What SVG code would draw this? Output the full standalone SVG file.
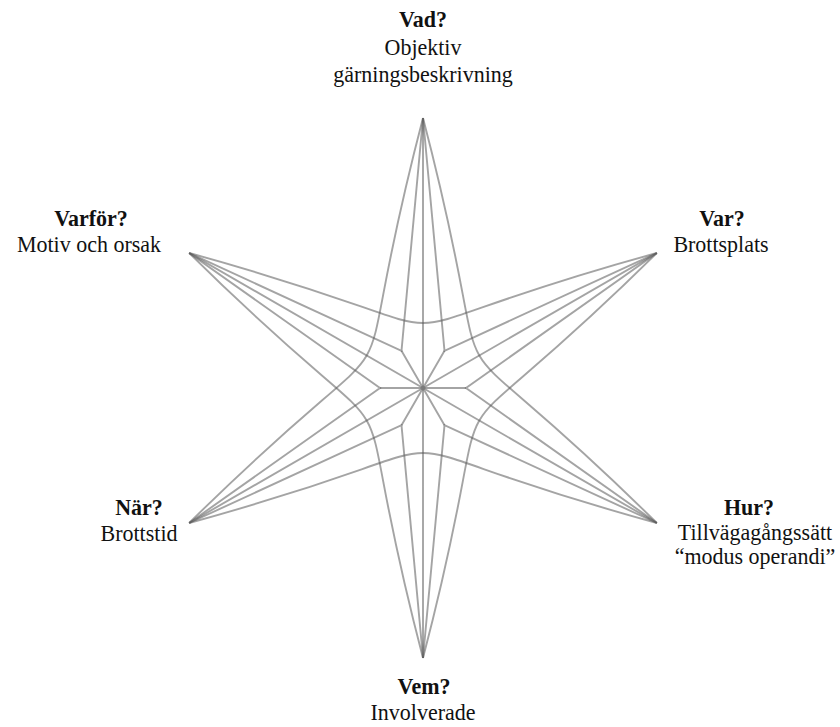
<svg xmlns="http://www.w3.org/2000/svg" width="840" height="727" viewBox="0 0 840 727">
<style>
.web{fill:none;stroke:#5a5a5a;stroke-opacity:0.55;stroke-width:1.9;stroke-linejoin:miter}
text{font-family:'Liberation Serif','Times New Roman',serif;font-size:22px;fill:#111111;text-anchor:middle}
.b{font-weight:bold}
</style>
<rect width="840" height="727" fill="#ffffff"/>
<g id="connectors">
<path class="web" d="M423,388 L423,118 M423,388 L656.83,253 M423,388 L656.83,523 M423,388 L423,658 M423,388 L189.17,523 M423,388 L189.17,253"/>
<path class="web" d="M423,388 L444.5,350.76 M423,388 L466,388 M423,388 L444.5,425.24 M423,388 L401.5,425.24 M423,388 L380,388 M423,388 L401.5,350.76"/>
<path class="web" d="M423,118 L444.5,350.76 L656.83,253 L466,388 L656.83,523 L444.5,425.24 L423,658 L401.5,425.24 L189.17,523 L380,388 L189.17,253 L401.5,350.76 Z"/>
<path class="web" d="M423,118 C512.59,459.77 405.63,274.52 656.83,523"/>
<path class="web" d="M656.83,253 C405.63,501.48 512.59,316.23 423,658"/>
<path class="web" d="M656.83,523 C316.04,429.71 529.96,429.71 189.17,523"/>
<path class="web" d="M423,658 C333.41,316.23 440.37,501.48 189.17,253"/>
<path class="web" d="M189.17,523 C440.37,274.52 333.41,459.77 423,118"/>
<path class="web" d="M189.17,253 C529.96,346.29 316.04,346.29 656.83,253"/>
</g>
<g id="vad">
<text class="b" transform="translate(423,27) scale(1,1.08)">Vad?</text>
<text transform="translate(423,55) scale(1,1.08)">Objektiv</text>
<text transform="translate(423,82) scale(1,1.08)">gärningsbeskrivning</text>
</g>
<g id="var">
<text class="b" transform="translate(722,226) scale(1,1.08)">Var?</text>
<text transform="translate(721,252) scale(1,1.08)">Brottsplats</text>
</g>
<g id="hur">
<text class="b" transform="translate(749,515) scale(1,1.08)">Hur?</text>
<text transform="translate(755,540) scale(1,1.08)">Tillvägagångssätt</text>
<text transform="translate(755,564) scale(1,1.08)">“modus operandi”</text>
</g>
<g id="vem">
<text class="b" transform="translate(424,694) scale(1,1.08)">Vem?</text>
<text transform="translate(423,720) scale(1,1.08)">Involverade</text>
</g>
<g id="nar">
<text class="b" transform="translate(139,515) scale(1,1.08)">När?</text>
<text transform="translate(139,541) scale(1,1.08)">Brottstid</text>
</g>
<g id="varfor">
<text class="b" transform="translate(91,226) scale(1,1.08)">Varför?</text>
<text transform="translate(89,252) scale(1,1.08)">Motiv och orsak</text>
</g>
</svg>
